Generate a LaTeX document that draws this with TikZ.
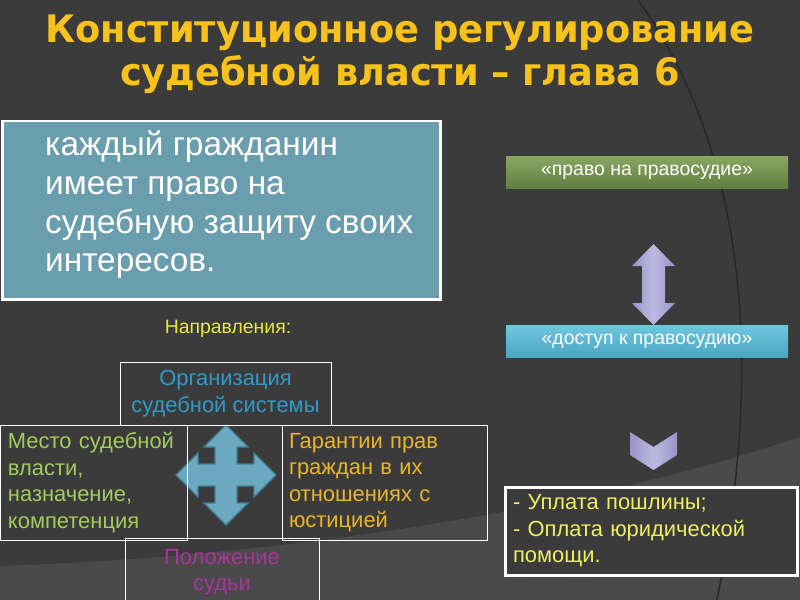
\documentclass[tikz,border=0pt]{standalone}
\usepackage{fontspec}
\setmainfont{Liberation Sans}
\newfontfamily\titrefont[FakeStretch=0.97]{DejaVu Sans}

\definecolor{fond}{HTML}{3B3B3B}
\definecolor{fondclair}{HTML}{4A4A4A}
\definecolor{ligne}{HTML}{292929}
\definecolor{titreor}{HTML}{F7C21B}
\definecolor{bleugris}{HTML}{6A9DAD}
\definecolor{vertha}{HTML}{88A662}
\definecolor{vertbas}{HTML}{617E40}
\definecolor{cielha}{HTML}{6FC6DE}
\definecolor{cielbas}{HTML}{4AA5C2}
\definecolor{lavande}{HTML}{9A93C8}
\definecolor{lavandeclair}{HTML}{BEB9E2}
\definecolor{turquoise}{HTML}{6AA9BF}
\definecolor{turquoisefonce}{HTML}{447F93}
\definecolor{bleutexte}{HTML}{2F9BCB}
\definecolor{verttexte}{HTML}{A3CC5C}
\definecolor{ortexte}{HTML}{E9B52A}
\definecolor{rosetexte}{HTML}{A8369A}
\definecolor{jaune}{HTML}{E9E93C}
\definecolor{jauneclair}{HTML}{EEEE62}

\begin{document}
\begin{tikzpicture}[x=1bp, y=-1bp]
			\tikzset{titre/.style={text=titreor, font=\titrefont\bfseries\fontsize{38}{43}\selectfont, align=center},
				cadre/.style={draw=white, line width=1bp, inner sep=0, align=center, font=\fontsize{22}{26.5}\selectfont},
				cadregauche/.style={cadre, align=left, inner xsep=7bp},
				barre/.style={inner sep=0, minimum width=282bp, minimum height=32bp, text=white, font=\fontsize{19.5}{23}\selectfont},
				fleche/.style={left color=lavande, right color=lavande, middle color=lavandeclair},
				croix/.style={fill=turquoise, draw=turquoisefonce, line width=1.2bp, line join=miter}};

			\fill[fond] (0,0) rectangle (800,600);
			\clip (0,0) rectangle (800,600);
			\fill[fondclair] (0,566) .. controls (300,556) and (600,505) .. (800,437) -- (800,600) -- (0,600) -- cycle;
			\draw[ligne, line width=1.5bp] (638,0) .. controls (745,150) and (765,360) .. (717,600);

			\node[titre] (titre) at (400,54) {Конституционное регулирование\\судебной власти – глава 6};

			\node[draw=white, line width=2.5bp, fill=bleugris, minimum width=438bp, minimum height=178bp, anchor=north west, inner sep=0] (principe) at (1,120) {};
			\node[text=white, align=left, anchor=north west, inner sep=0, font=\fontsize{33.5}{38.7}\selectfont] (principetexte) at (45,131) {каждый гражданин\\имеет право на\\судебную защиту своих\\интересов.};

			\node[barre, top color=vertha, bottom color=vertbas] (droitjustice) at (647,172.5) {«право на правосудие»};
			\node[barre, top color=cielha, bottom color=cielbas] (acces) at (647,341.5) {«доступ к правосудию»};

			\shade[fleche] (653.5,244) -- (675,266) -- (665,266) -- (665,303) -- (675,303) -- (653.5,325) -- (632,303) -- (642,303) -- (642,266) -- (632,266) -- cycle;
			\shade[fleche] (630,432) -- (653.5,447) -- (677,432) -- (677,455) -- (653.5,470) -- (630,455) -- cycle;

			\node[text=jaune, font=\fontsize{19.5}{23}\selectfont] (directions) at (228,329) {Направления:};

			\begin{scope}[shift={(226,475)}]
				\draw[croix] (0,-50) -- (22,-28) -- (11,-28) -- (11,-11) -- (28,-11) -- (28,-22) -- (50,0) -- (28,22) -- (28,11) -- (11,11) -- (11,28) -- (22,28) -- (0,50) -- (-22,28) -- (-11,28) -- (-11,11) -- (-28,11) -- (-28,22) -- (-50,0) -- (-28,-22) -- (-28,-11) -- (-11,-11) -- (-11,-28) -- (-22,-28) -- cycle;
			\end{scope}

			\node[cadre, text=bleutexte, minimum width=211bp, minimum height=63bp] (organisation) at (225.5,393.5) {Организация\\судебной системы};
			\node[cadregauche, text=verttexte, text width=172bp, minimum height=115bp] (place) at (94,482.5) {Место судебной\\власти,\\назначение,\\компетенция};
			\node[cadregauche, text=ortexte, text width=191bp, minimum height=115bp] (garanties) at (384.5,482.5) {Гарантии прав\\граждан в их\\отношениях с\\юстицией};
			\node[cadre, text=rosetexte, minimum width=194bp, minimum height=68bp] (statut) at (222,572) {Положение\\судьи};

			\node[cadregauche, line width=3bp, fill=fond, text=jauneclair, text width=276bp, minimum height=88bp, inner xsep=8bp] (frais) at (651,531) {- Уплата пошлины;\\- Оплата юридической\\помощи.};

		\end{tikzpicture}
\end{document}
